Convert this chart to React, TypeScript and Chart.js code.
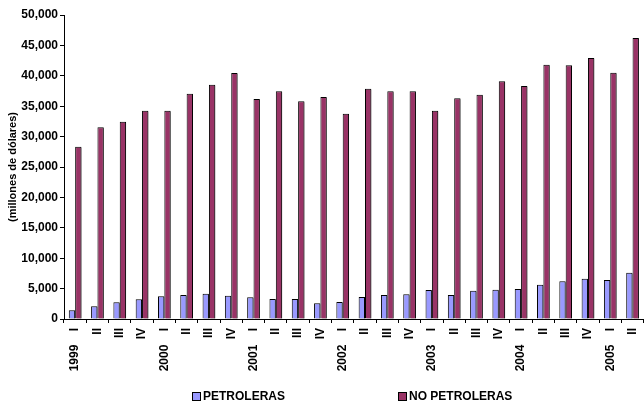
import React, { useEffect, useRef } from "react";
import { Chart, registerables } from "chart.js";

Chart.register(...registerables);

const quarterLabels = ["I", "II", "III", "IV", "I", "II", "III", "IV", "I", "II", "III", "IV", "I", "II", "III", "IV", "I", "II", "III", "IV", "I", "II", "III", "IV", "I", "II"];
const yearLabels = ["1999", "", "", "", "2000", "", "", "", "2001", "", "", "", "2002", "", "", "", "2003", "", "", "", "2004", "", "", "", "2005", ""];

const petroleras = [1430, 2090, 2750, 3240, 3730, 3950, 4160, 3830, 3570, 3290, 3290, 2580, 2800, 3620, 3950, 4060, 4770, 3950, 4660, 4820, 4930, 5640, 6200, 6630, 6410, 7620];
const noPetroleras = [28340, 31530, 32450, 34260, 34260, 37060, 38540, 40460, 36180, 37450, 35800, 36510, 33770, 37880, 37450, 37450, 34260, 36300, 36890, 39090, 38320, 41830, 41720, 42930, 40510, 46220];

const seriesNames = ["PETROLERAS", "NO PETROLERAS"];
const seriesColors = ["#9999FF", "#993366"];

const FONT = "'Liberation Sans', Arial, sans-serif";

export default function App() {
  const ref = useRef<HTMLCanvasElement | null>(null);

  useEffect(() => {
    document.documentElement.style.overflow = "hidden";
    document.body.style.overflow = "hidden";
    const labels = quarterLabels.map((q, i) => (yearLabels[i] ? yearLabels[i] + "    " + q : q));
    const shadowPlugin = {
      id: "barShadow",
      beforeDatasetsDraw(chart: any) {
        const ctx = chart.ctx;
        ctx.save();
        ctx.shadowColor = "rgba(0,0,0,0.35)";
        ctx.shadowOffsetX = 1.5;
        ctx.shadowOffsetY = 1;
        ctx.shadowBlur = 0;
      },
      afterDatasetsDraw(chart: any) {
        chart.ctx.restore();
      },
    };
    const chart = new Chart(ref.current as HTMLCanvasElement, {
      type: "bar",
      data: {
        labels,
        datasets: [
          {
            label: seriesNames[0],
            data: petroleras,
            backgroundColor: seriesColors[0],
            borderColor: "#000000",
            borderWidth: 1,
            categoryPercentage: 0.57,
            barPercentage: 1,
          },
          {
            label: seriesNames[1],
            data: noPetroleras,
            backgroundColor: seriesColors[1],
            borderColor: "#000000",
            borderWidth: 1,
            categoryPercentage: 0.57,
            barPercentage: 1,
          },
        ],
      },
      options: {
        animation: false,
        responsive: false,
        maintainAspectRatio: false,
        layout: { padding: { top: 15, right: 2, bottom: 0, left: 0 } },
        plugins: {
          legend: { display: false },
          tooltip: { enabled: false },
        },
        scales: {
          x: {
            offset: true,
            grid: {
              display: true,
              offset: true,
              drawOnChartArea: false,
              drawTicks: true,
              tickLength: 4,
              color: "#000000",
            },
            border: { display: true, color: "#000000", width: 1 },
            ticks: {
              autoSkip: false,
              minRotation: 90,
              maxRotation: 90,
              padding: 5,
              color: "#000000",
              font: { family: FONT, size: 12, weight: "bold" },
            },
            afterFit(scale: any) {
              scale.height = 90;
            },
          },
          y: {
            min: 0,
            max: 50000,
            grid: {
              display: true,
              drawOnChartArea: false,
              drawTicks: true,
              tickLength: 4,
              color: "#000000",
            },
            border: { display: true, color: "#000000", width: 1 },
            ticks: {
              stepSize: 5000,
              padding: 2,
              color: "#000000",
              font: { family: FONT, size: 12, weight: "bold" },
              callback: (v: any) => Number(v).toLocaleString("en-US"),
            },
            title: {
              display: true,
              text: "(millones de dólares)",
              color: "#000000",
              padding: { top: 6, bottom: 0 },
              font: { family: FONT, size: 11, weight: "bold" },
            },
            afterFit(scale: any) {
              scale.width = 64;
            },
          },
        },
      },
      plugins: [shadowPlugin],
    });
    return () => chart.destroy();
  }, []);

  const legendItem = (i: number, left: number) => (
    <div
      key={i}
      style={{
        position: "absolute",
        left,
        top: 389,
        display: "flex",
        alignItems: "center",
        fontFamily: FONT,
        fontWeight: "bold",
        fontSize: 12,
        color: "#000",
        whiteSpace: "nowrap",
      }}
    >
      <span
        style={{
          display: "inline-block",
          width: 7,
          height: 7,
          background: seriesColors[i],
          border: "1px solid #000",
          marginRight: 2,
        }}
      />
      <span>{seriesNames[i]}</span>
    </div>
  );

  return (
    <div style={{ position: "absolute", left: 0, top: 0, width: 652, height: 409, background: "#fff" }}>
      <canvas ref={ref} width={652} height={409} style={{ display: "block", width: 652, height: 409 }} />
      {legendItem(0, 192)}
      {legendItem(1, 398)}
    </div>
  );
}
